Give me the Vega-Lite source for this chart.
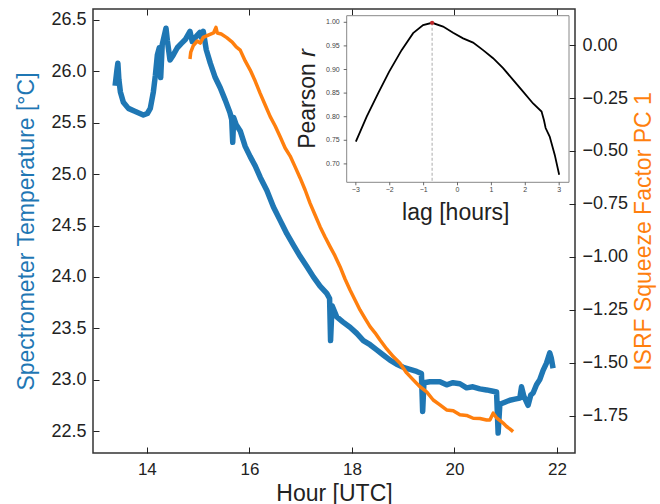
{
  "$schema": "https://vega.github.io/schema/vega-lite/v6.json",
  "width": 482,
  "height": 444,
  "autosize": {"type": "none"},
  "padding": {"left": 93, "top": 9, "right": 85, "bottom": 51},
  "background": "white",
  "config": {
    "font": "Liberation Sans",
    "view": {"stroke": "#333333", "strokeWidth": 1.5},
    "axis": {"grid": false, "domain": false, "titleFontWeight": "normal", "labelColor": "#222222", "tickColor": "#222222", "titleColor": "#222222", "labelFlush": false, "labelOverlap": false}
  },
  "datasets": {
    "temp": [
      {"hour": 13.381, "temp": 25.86}, {"hour": 13.416, "temp": 26.01}, {"hour": 13.435, "temp": 26.08}, {"hour": 13.455, "temp": 25.92},
      {"hour": 13.484, "temp": 25.80}, {"hour": 13.542, "temp": 25.70}, {"hour": 13.640, "temp": 25.64}, {"hour": 13.776, "temp": 25.61},
      {"hour": 13.932, "temp": 25.575}, {"hour": 14.01, "temp": 25.59}, {"hour": 14.068, "temp": 25.64}, {"hour": 14.127, "temp": 25.80},
      {"hour": 14.166, "temp": 25.96}, {"hour": 14.205, "temp": 26.16}, {"hour": 14.243, "temp": 26.23}, {"hour": 14.27, "temp": 25.94},
      {"hour": 14.30, "temp": 26.26}, {"hour": 14.374, "temp": 26.42}, {"hour": 14.40, "temp": 26.30}, {"hour": 14.452, "temp": 26.11},
      {"hour": 14.516, "temp": 26.16}, {"hour": 14.594, "temp": 26.23}, {"hour": 14.67, "temp": 26.27}, {"hour": 14.75, "temp": 26.31},
      {"hour": 14.841, "temp": 26.39}, {"hour": 14.886, "temp": 26.29}, {"hour": 14.964, "temp": 26.34}, {"hour": 15.036, "temp": 26.38},
      {"hour": 15.06, "temp": 26.33}, {"hour": 15.10, "temp": 26.39}, {"hour": 15.159, "temp": 26.21}, {"hour": 15.237, "temp": 26.08},
      {"hour": 15.334, "temp": 25.94}, {"hour": 15.431, "temp": 25.84}, {"hour": 15.529, "temp": 25.72}, {"hour": 15.62, "temp": 25.60},
      {"hour": 15.655, "temp": 25.53}, {"hour": 15.675, "temp": 25.31}, {"hour": 15.694, "temp": 25.55}, {"hour": 15.743, "temp": 25.48},
      {"hour": 15.821, "temp": 25.42}, {"hour": 15.918, "temp": 25.27}, {"hour": 16.016, "temp": 25.17}, {"hour": 16.113, "temp": 25.08},
      {"hour": 16.21, "temp": 24.97}, {"hour": 16.341, "temp": 24.84}, {"hour": 16.469, "temp": 24.68}, {"hour": 16.6, "temp": 24.55},
      {"hour": 16.73, "temp": 24.42}, {"hour": 16.859, "temp": 24.31}, {"hour": 16.989, "temp": 24.20}, {"hour": 17.12, "temp": 24.10},
      {"hour": 17.248, "temp": 24.0}, {"hour": 17.378, "temp": 23.91}, {"hour": 17.509, "temp": 23.84}, {"hour": 17.564, "temp": 23.79},
      {"hour": 17.583, "temp": 23.38}, {"hour": 17.612, "temp": 23.72}, {"hour": 17.704, "temp": 23.61}, {"hour": 17.827, "temp": 23.56},
      {"hour": 17.963, "temp": 23.51}, {"hour": 18.094, "temp": 23.45}, {"hour": 18.222, "temp": 23.38}, {"hour": 18.353, "temp": 23.34},
      {"hour": 18.483, "temp": 23.29}, {"hour": 18.611, "temp": 23.24}, {"hour": 18.742, "temp": 23.19}, {"hour": 18.872, "temp": 23.15},
      {"hour": 19.001, "temp": 23.12}, {"hour": 19.131, "temp": 23.10}, {"hour": 19.262, "temp": 23.08}, {"hour": 19.355, "temp": 23.06},
      {"hour": 19.379, "temp": 22.69}, {"hour": 19.404, "temp": 22.97}, {"hour": 19.52, "temp": 22.98}, {"hour": 19.715, "temp": 22.98},
      {"hour": 19.846, "temp": 22.95}, {"hour": 19.969, "temp": 22.97}, {"hour": 20.105, "temp": 22.96}, {"hour": 20.236, "temp": 22.92},
      {"hour": 20.358, "temp": 22.93}, {"hour": 20.495, "temp": 22.91}, {"hour": 20.625, "temp": 22.90}, {"hour": 20.728, "temp": 22.89},
      {"hour": 20.82, "temp": 22.88}, {"hour": 20.851, "temp": 22.48}, {"hour": 20.884, "temp": 22.76}, {"hour": 20.982, "temp": 22.78},
      {"hour": 21.079, "temp": 22.80}, {"hour": 21.177, "temp": 22.81}, {"hour": 21.274, "temp": 22.82}, {"hour": 21.307, "temp": 22.93},
      {"hour": 21.352, "temp": 22.84}, {"hour": 21.435, "temp": 22.75}, {"hour": 21.488, "temp": 22.85}, {"hour": 21.533, "temp": 22.87},
      {"hour": 21.599, "temp": 22.95}, {"hour": 21.663, "temp": 23.0}, {"hour": 21.728, "temp": 23.09}, {"hour": 21.794, "temp": 23.16},
      {"hour": 21.858, "temp": 23.26}, {"hour": 21.887, "temp": 23.21}, {"hour": 21.922, "temp": 23.11}
    ],
    "pc": [
      {"hour": 14.841, "pc": -0.066}, {"hour": 14.857, "pc": -0.033}, {"hour": 14.906, "pc": -0.003}, {"hour": 14.983, "pc": 0.019},
      {"hour": 15.042, "pc": 0.009}, {"hour": 15.10, "pc": 0.036}, {"hour": 15.198, "pc": 0.047}, {"hour": 15.301, "pc": 0.057},
      {"hour": 15.348, "pc": 0.083}, {"hour": 15.373, "pc": 0.057}, {"hour": 15.451, "pc": 0.052}, {"hour": 15.558, "pc": 0.035},
      {"hour": 15.665, "pc": 0.014}, {"hour": 15.743, "pc": -0.009}, {"hour": 15.821, "pc": -0.024}, {"hour": 15.918, "pc": -0.075},
      {"hour": 16.016, "pc": -0.118}, {"hour": 16.113, "pc": -0.17}, {"hour": 16.21, "pc": -0.228}, {"hour": 16.308, "pc": -0.283},
      {"hour": 16.406, "pc": -0.338}, {"hour": 16.503, "pc": -0.382}, {"hour": 16.6, "pc": -0.433}, {"hour": 16.697, "pc": -0.486},
      {"hour": 16.795, "pc": -0.524}, {"hour": 16.892, "pc": -0.575}, {"hour": 16.989, "pc": -0.627}, {"hour": 17.087, "pc": -0.684},
      {"hour": 17.184, "pc": -0.747}, {"hour": 17.281, "pc": -0.802}, {"hour": 17.378, "pc": -0.857}, {"hour": 17.476, "pc": -0.906},
      {"hour": 17.573, "pc": -0.951}, {"hour": 17.67, "pc": -0.995}, {"hour": 17.768, "pc": -1.046}, {"hour": 17.865, "pc": -1.104},
      {"hour": 17.963, "pc": -1.156}, {"hour": 18.06, "pc": -1.203}, {"hour": 18.157, "pc": -1.25}, {"hour": 18.255, "pc": -1.29},
      {"hour": 18.353, "pc": -1.329}, {"hour": 18.45, "pc": -1.358}, {"hour": 18.548, "pc": -1.392}, {"hour": 18.678, "pc": -1.434},
      {"hour": 18.806, "pc": -1.47}, {"hour": 18.937, "pc": -1.501}, {"hour": 19.067, "pc": -1.547}, {"hour": 19.196, "pc": -1.58},
      {"hour": 19.326, "pc": -1.612}, {"hour": 19.457, "pc": -1.637}, {"hour": 19.585, "pc": -1.675}, {"hour": 19.716, "pc": -1.698},
      {"hour": 19.846, "pc": -1.722}, {"hour": 19.975, "pc": -1.726}, {"hour": 20.105, "pc": -1.745}, {"hour": 20.236, "pc": -1.748},
      {"hour": 20.364, "pc": -1.761}, {"hour": 20.495, "pc": -1.762}, {"hour": 20.625, "pc": -1.769}, {"hour": 20.69, "pc": -1.769},
      {"hour": 20.754, "pc": -1.737}, {"hour": 20.82, "pc": -1.759}, {"hour": 20.884, "pc": -1.771}, {"hour": 20.948, "pc": -1.784},
      {"hour": 21.015, "pc": -1.80}, {"hour": 21.079, "pc": -1.811}, {"hour": 21.143, "pc": -1.824}
    ],
    "corr": [
      {"lag": -3.0, "r": 0.747}, {"lag": -2.68, "r": 0.80}, {"lag": -2.34, "r": 0.85}, {"lag": -2.02, "r": 0.895},
      {"lag": -1.65, "r": 0.941}, {"lag": -1.31, "r": 0.977}, {"lag": -1.015, "r": 0.994}, {"lag": -0.75, "r": 0.999},
      {"lag": -0.425, "r": 0.991}, {"lag": -0.13, "r": 0.978}, {"lag": 0.165, "r": 0.966}, {"lag": 0.46, "r": 0.957},
      {"lag": 0.755, "r": 0.941}, {"lag": 1.05, "r": 0.924}, {"lag": 1.345, "r": 0.903}, {"lag": 1.64, "r": 0.878},
      {"lag": 1.935, "r": 0.853}, {"lag": 2.23, "r": 0.828}, {"lag": 2.48, "r": 0.811}, {"lag": 2.55, "r": 0.793},
      {"lag": 2.6, "r": 0.776}, {"lag": 2.72, "r": 0.758}, {"lag": 2.87, "r": 0.719}, {"lag": 3.0, "r": 0.677}
    ],
    "peak": [{"lag": -0.75, "r": 0.999}],
    "xt": [{"lag": -3}, {"lag": -2}, {"lag": -1}, {"lag": 0}, {"lag": 1}, {"lag": 2}, {"lag": 3}],
    "yt": [{"r": 0.70}, {"r": 0.75}, {"r": 0.80}, {"r": 0.85}, {"r": 0.90}, {"r": 0.95}, {"r": 1.00}]
  },
  "layer": [
    {
      "data": {"name": "temp"},
      "mark": {"type": "line", "color": "#1f77b4", "strokeWidth": 5.5, "strokeJoin": "round"},
      "encoding": {
        "x": {"field": "hour", "type": "quantitative",
          "scale": {"domain": [12.95, 22.35], "nice": false, "zero": false},
          "axis": {"orient": "bottom", "values": [14, 16, 18, 20, 22], "tickSize": -6, "labelPadding": 14, "labelFontSize": 17, "title": "Hour [UTC]", "titleFontSize": 23, "titlePadding": 5}},
        "y": {"field": "temp", "type": "quantitative",
          "scale": {"domain": [22.286, 26.607], "nice": false, "zero": false},
          "axis": {"orient": "left", "values": [22.5, 23.0, 23.5, 24.0, 24.5, 25.0, 25.5, 26.0, 26.5], "format": ".1f", "tickSize": -6, "labelPadding": 13, "labelFontSize": 18, "title": "Spectrometer Temperature [°C]", "titleColor": "#1f77b4", "titleFontSize": 23, "titlePadding": 12}}
      }
    },
    {
      "data": {"name": "pc"},
      "mark": {"type": "line", "color": "#ff7f0e", "strokeWidth": 3.5, "strokeJoin": "round"},
      "encoding": {
        "x": {"field": "hour", "type": "quantitative",
          "scale": {"domain": [12.95, 22.35], "nice": false, "zero": false},
          "axis": {"orient": "top", "values": [14, 16, 18, 20, 22], "tickSize": -6, "labels": false, "title": null}},
        "y": {"field": "pc", "type": "quantitative",
          "scale": {"domain": [-1.925, 0.17], "nice": false, "zero": false},
          "axis": {"orient": "right", "values": [0, -0.25, -0.5, -0.75, -1.0, -1.25, -1.5, -1.75], "format": ".2f", "tickSize": -6, "labelPadding": 13, "labelFontSize": 18, "title": "ISRF Squeeze Factor PC 1", "titleColor": "#ff7f0e", "titleFontSize": 23, "titlePadding": 5, "titleAngle": 270, "titleBaseline": "top"}}
      }
    },
    {
      "layer": [
        {
          "data": {"values": [{}]},
          "mark": {"type": "rect", "fill": "white", "stroke": "#888888", "strokeWidth": 1},
          "encoding": {
            "x": {"datum": -3.27, "type": "quantitative", "axis": null},
            "x2": {"datum": 3.29},
            "y": {"datum": 0.661, "type": "quantitative", "axis": null},
            "y2": {"datum": 1.014}
          }
        },
        {
          "data": {"name": "peak"},
          "mark": {"type": "rule", "color": "#aaaaaa", "strokeDash": [3, 2], "strokeWidth": 1},
          "encoding": {
            "x": {"field": "lag", "type": "quantitative", "axis": null},
            "y": {"field": "r", "type": "quantitative", "axis": null},
            "y2": {"datum": 0.661}
          }
        },
        {
          "data": {"name": "corr"},
          "mark": {"type": "line", "color": "black", "strokeWidth": 1.8},
          "encoding": {
            "x": {"field": "lag", "type": "quantitative",
              "scale": {"domain": [-3.27, 3.29], "range": [253.7, 476], "nice": false, "zero": false},
              "axis": null},
            "y": {"field": "r", "type": "quantitative",
              "scale": {"domain": [0.661, 1.014], "range": [173.3, 6.7], "nice": false, "zero": false},
              "axis": null}
          }
        },
        {
          "data": {"name": "peak"},
          "mark": {"type": "point", "filled": true, "color": "#c0282a", "size": 18, "opacity": 1},
          "encoding": {
            "x": {"field": "lag", "type": "quantitative", "axis": null},
            "y": {"field": "r", "type": "quantitative", "axis": null}
          }
        },
        {
          "data": {"name": "xt"},
          "mark": {"type": "rule", "color": "#444444", "strokeWidth": 0.8, "y2Offset": 3},
          "encoding": {
            "x": {"field": "lag", "type": "quantitative", "axis": null},
            "y": {"datum": 0.661, "type": "quantitative", "axis": null},
            "y2": {"datum": 0.661}
          }
        },
        {
          "data": {"name": "xt"},
          "mark": {"type": "text", "fill": "#444444", "fontSize": 7, "baseline": "middle", "align": "center", "dy": 8},
          "encoding": {
            "x": {"field": "lag", "type": "quantitative", "axis": null},
            "y": {"datum": 0.661, "type": "quantitative", "axis": null},
            "text": {"field": "lag", "type": "quantitative", "format": "d"}
          }
        },
        {
          "data": {"name": "yt"},
          "mark": {"type": "rule", "color": "#444444", "strokeWidth": 0.8, "x2Offset": -3},
          "encoding": {
            "x": {"datum": -3.27, "type": "quantitative", "axis": null},
            "x2": {"datum": -3.27},
            "y": {"field": "r", "type": "quantitative", "axis": null}
          }
        },
        {
          "data": {"name": "yt"},
          "mark": {"type": "text", "fill": "#444444", "fontSize": 7, "baseline": "middle", "align": "right", "dx": -7},
          "encoding": {
            "x": {"datum": -3.27, "type": "quantitative", "axis": null},
            "y": {"field": "r", "type": "quantitative", "axis": null},
            "text": {"field": "r", "type": "quantitative", "format": ".2f"}
          }
        },
        {
          "data": {"values": [{}]},
          "mark": {"type": "text", "text": "lag [hours]", "fill": "#222222", "fontSize": 23, "baseline": "alphabetic", "align": "center", "dy": 37.7},
          "encoding": {
            "x": {"datum": -0.05, "type": "quantitative", "axis": null},
            "y": {"datum": 0.661, "type": "quantitative", "axis": null}
          }
        },
        {
          "data": {"values": [{}]},
          "mark": {"type": "text", "text": "Pearson", "fill": "#222222", "fontSize": 23, "baseline": "alphabetic", "align": "right", "angle": 270, "dx": 35.8, "dy": -31.7},
          "encoding": {
            "x": {"datum": -3.27, "type": "quantitative", "axis": null},
            "y": {"datum": 0.8375, "type": "quantitative", "axis": null}
          }
        },
        {
          "data": {"values": [{}]},
          "mark": {"type": "text", "text": "r", "fill": "#222222", "fontSize": 23, "fontStyle": "italic", "baseline": "alphabetic", "align": "left", "angle": 270, "dx": 42.2, "dy": -31.7},
          "encoding": {
            "x": {"datum": -3.27, "type": "quantitative", "axis": null},
            "y": {"datum": 0.8375, "type": "quantitative", "axis": null}
          }
        }
      ]
    }
  ],
  "resolve": {"scale": {"x": "independent", "y": "independent"}, "axis": {"x": "independent", "y": "independent"}}
}
